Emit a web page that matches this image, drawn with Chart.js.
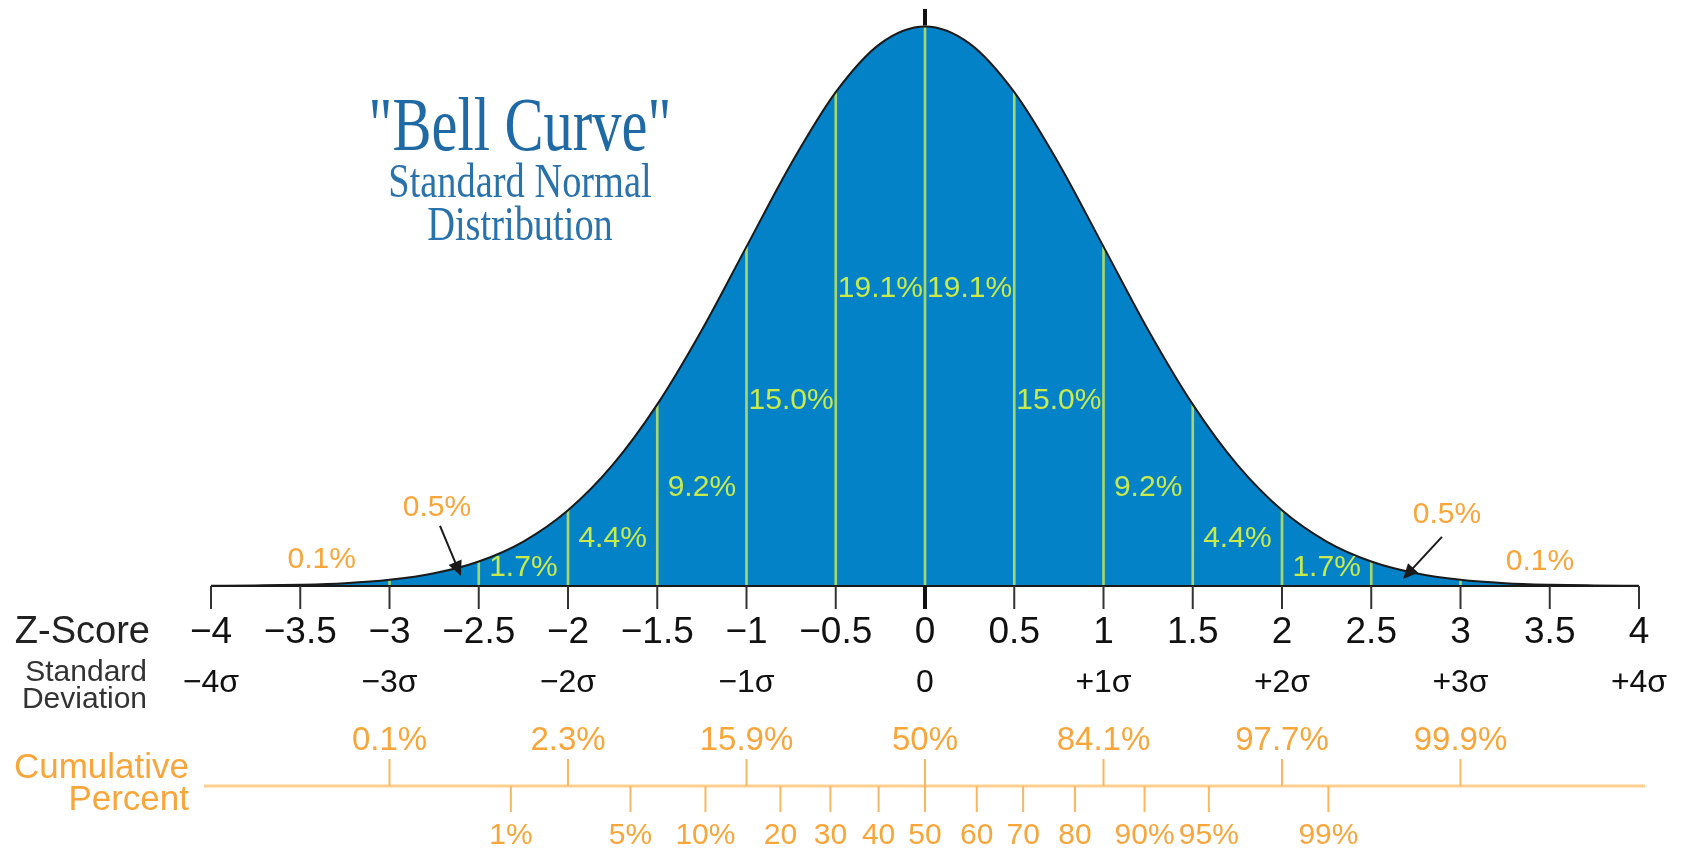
<!DOCTYPE html>
<html>
<head>
<meta charset="utf-8">
<script src="https://cdn.jsdelivr.net/npm/chart.js@4.4.1/dist/chart.umd.min.js"></script>
<style>
  html, body { margin: 0; padding: 0; background: #fff; }
  #wrap { width: 1683px; height: 851px; position: relative; }
</style>
</head>
<body>
<div id="wrap"><canvas id="bell"></canvas></div>
<script>
// ---- Data ----
const zValues = [-4, -3.75, -3.5, -3.25, -3, -2.75, -2.5, -2.25, -2, -1.75, -1.5, -1.25, -1, -0.75, -0.5, -0.25,
                 0, 0.25, 0.5, 0.75, 1, 1.25, 1.5, 1.75, 2, 2.25, 2.5, 2.75, 3, 3.25, 3.5, 3.75, 4];
const density = [0.0001, 0.0004, 0.0009, 0.0020, 0.0044, 0.0091, 0.0175, 0.0317, 0.0540, 0.0863, 0.1295, 0.1826, 0.2420, 0.3011, 0.3521, 0.3867,
                 0.3989, 0.3867, 0.3521, 0.3011, 0.2420, 0.1826, 0.1295, 0.0863, 0.0540, 0.0317, 0.0175, 0.0091, 0.0044, 0.0020, 0.0009, 0.0004, 0.0001];

// band dividers inside the curve
const boundaryZ = [-3.5, -3, -2.5, -2, -1.5, -1, -0.5, 0, 0.5, 1, 1.5, 2, 2.5, 3, 3.5];

// percentage of area in each band (left to right)
const bandLabels = ['0.1%', '0.5%', '1.7%', '4.4%', '9.2%', '15.0%', '19.1%',
                    '19.1%', '15.0%', '9.2%', '4.4%', '1.7%', '0.5%', '0.1%'];

const zTickValues = [-4, -3.5, -3, -2.5, -2, -1.5, -1, -0.5, 0, 0.5, 1, 1.5, 2, 2.5, 3, 3.5, 4];
const zTickLabels = ['−4', '−3.5', '−3', '−2.5', '−2', '−1.5', '−1', '−0.5', '0', '0.5', '1', '1.5', '2', '2.5', '3', '3.5', '4'];

const sigmaValues = [-4, -3, -2, -1, 0, 1, 2, 3, 4];
const sigmaLabels = ['−4σ', '−3σ', '−2σ', '−1σ', '0', '+1σ', '+2σ', '+3σ', '+4σ'];

const cumMajorZ = [-3, -2, -1, 0, 1, 2, 3];
const cumMajorLabels = ['0.1%', '2.3%', '15.9%', '50%', '84.1%', '97.7%', '99.9%'];

const cumMinorZ = [-2.32, -1.65, -1.23, -0.81, -0.53, -0.26, 0, 0.29, 0.55, 0.84, 1.23, 1.59, 2.26];
const cumMinorLabels = ['1%', '5%', '10%', '20', '30', '40', '50', '60', '70', '80', '90%', '95%', '99%'];

// ---- Styling ----
const blueFill   = '#0382c8';
const bandLine   = '#a6d66c';
const bandText   = '#c9ea4b';
const orange     = '#f8a53a';
const orangeAxis = '#fdd08f';
const ink        = '#1a1a1a';
const sans       = '"Liberation Sans", Arial, sans-serif';
const serif      = '"Liberation Serif", "Times New Roman", serif';

const heightAt = z => density[zValues.indexOf(z)];
const curvePts = zValues.map((z, i) => ({ x: z, y: density[i] }));
const barPts   = boundaryZ.map(z => ({ x: z, y: heightAt(z) }));

// label anchors, in data units: [z, density]
const bandAnchors = [
  [-3.38, 0.0186], [-2.734, 0.0557], [-2.25, 0.0128], [-1.75, 0.0336], [-1.25, 0.070], [-0.75, 0.132], [-0.25, 0.212],
  [0.25, 0.212], [0.75, 0.132], [1.25, 0.070], [1.75, 0.0336], [2.25, 0.0128], [2.924, 0.0507], [3.445, 0.0171]
];
const arrows = [
  { from: [-2.717, 0.0428], to: [-2.60, 0.0071] },
  { from: [2.896, 0.0350], to: [2.678, 0.0050] }
];

function text(ctx, s, x, y, size, color, align, family, sx) {
  ctx.save();
  ctx.translate(x, y);
  if (sx) ctx.scale(sx, 1);
  ctx.font = size + 'px ' + (family || sans);
  ctx.fillStyle = color;
  ctx.textAlign = align || 'center';
  ctx.textBaseline = 'middle';
  ctx.fillText(s, 0, 0);
  ctx.restore();
}

function arrow(ctx, x1, y1, x2, y2) {
  const a = Math.atan2(y2 - y1, x2 - x1);
  const len = 15, half = 7;
  ctx.save();
  ctx.strokeStyle = ink;
  ctx.fillStyle = ink;
  ctx.lineWidth = 2;
  ctx.beginPath();
  ctx.moveTo(x1, y1);
  ctx.lineTo(x2 - Math.cos(a) * len * 0.8, y2 - Math.sin(a) * len * 0.8);
  ctx.stroke();
  ctx.beginPath();
  ctx.moveTo(x2, y2);
  ctx.lineTo(x2 - Math.cos(a) * len - Math.sin(a) * half, y2 - Math.sin(a) * len + Math.cos(a) * half);
  ctx.lineTo(x2 - Math.cos(a) * len + Math.sin(a) * half, y2 - Math.sin(a) * len - Math.cos(a) * half);
  ctx.closePath();
  ctx.fill();
  ctx.restore();
}

const decorations = {
  id: 'decorations',
  beforeDraw(chart) {
    const ctx = chart.ctx;
    ctx.save();
    ctx.fillStyle = '#fff';
    ctx.fillRect(0, 0, chart.width, chart.height);
    ctx.restore();
  },
  afterDraw(chart) {
    const ctx = chart.ctx;
    const xs = chart.scales.x, ys = chart.scales.y;
    const X = v => xs.getPixelForValue(v);
    const Y = v => ys.getPixelForValue(v);
    const base = Y(0);

    // baseline
    ctx.save();
    ctx.strokeStyle = ink;
    ctx.lineWidth = 2;
    ctx.beginPath();
    ctx.moveTo(X(-4), base);
    ctx.lineTo(X(4), base);
    ctx.stroke();

    // z-score ticks
    ctx.strokeStyle = '#333';
    ctx.lineWidth = 2;
    zTickValues.forEach(z => {
      ctx.beginPath();
      ctx.moveTo(X(z), base);
      ctx.lineTo(X(z), base + 23);
      ctx.stroke();
    });
    // heavy centre line, above peak and below base
    ctx.strokeStyle = '#111';
    ctx.lineWidth = 4;
    ctx.beginPath();
    ctx.moveTo(X(0), base);
    ctx.lineTo(X(0), base + 23);
    ctx.moveTo(X(0), 9);
    ctx.lineTo(X(0), Y(heightAt(0)) - 1);
    ctx.stroke();
    ctx.restore();

    // z-score labels
    text(ctx, 'Z-Score', 150, 633, 38, '#222', 'right');
    zTickValues.forEach((z, i) => text(ctx, zTickLabels[i], X(z), 633, 37, '#111'));

    // standard deviation row
    text(ctx, 'Standard', 147, 673, 30, '#333', 'right');
    text(ctx, 'Deviation', 147, 700, 30, '#333', 'right');
    sigmaValues.forEach((z, i) => text(ctx, sigmaLabels[i], X(z), 683, 32, '#111'));

    // cumulative percent axis
    const axisY = 786;
    ctx.save();
    ctx.strokeStyle = orangeAxis;
    ctx.lineWidth = 3;
    ctx.beginPath();
    ctx.moveTo(X(-4.04), axisY);
    ctx.lineTo(X(4.034), axisY);
    ctx.stroke();
    ctx.strokeStyle = '#f9b760';
    ctx.lineWidth = 2;
    cumMajorZ.forEach(z => {
      ctx.beginPath();
      ctx.moveTo(X(z), axisY - 27);
      ctx.lineTo(X(z), axisY);
      ctx.stroke();
    });
    cumMinorZ.forEach(z => {
      ctx.beginPath();
      ctx.moveTo(X(z), axisY);
      ctx.lineTo(X(z), axisY + 26);
      ctx.stroke();
    });
    ctx.restore();
    cumMajorZ.forEach((z, i) => text(ctx, cumMajorLabels[i], X(z), 741, 33, orange));
    cumMinorZ.forEach((z, i) => text(ctx, cumMinorLabels[i], X(z), 836, 30, orange));
    text(ctx, 'Cumulative', 189, 768, 35, orange, 'right');
    text(ctx, 'Percent', 189, 800, 35, orange, 'right');

    // band percentages
    bandLabels.forEach((s, i) => {
      const [z, d] = bandAnchors[i];
      const outside = i < 2 || i > bandLabels.length - 3;
      text(ctx, s, X(z), Y(d), 30, outside ? orange : bandText);
    });
    arrows.forEach(a => arrow(ctx, X(a.from[0]), Y(a.from[1]), X(a.to[0]), Y(a.to[1])));

    // title
    ctx.save();
    ctx.fillStyle = '#1f6aa5';
    ctx.textAlign = 'center';
    ctx.textBaseline = 'alphabetic';
    ctx.translate(520, 150);
    ctx.scale(0.77, 1);
    ctx.font = '76px ' + serif;
    ctx.fillText('"Bell Curve"', 0, 0);
    ctx.restore();
    ctx.save();
    ctx.fillStyle = '#2a72ab';
    ctx.textAlign = 'center';
    ctx.textBaseline = 'alphabetic';
    ctx.font = '48px ' + serif;
    ctx.translate(520, 197);
    ctx.scale(0.8, 1);
    ctx.fillText('Standard Normal', 0, 0);
    ctx.restore();
    ctx.save();
    ctx.fillStyle = '#2a72ab';
    ctx.textAlign = 'center';
    ctx.textBaseline = 'alphabetic';
    ctx.font = '48px ' + serif;
    ctx.translate(520, 240);
    ctx.scale(0.8, 1);
    ctx.fillText('Distribution', 0, 0);
    ctx.restore();
  }
};

new Chart(document.getElementById('bell'), {
  type: 'line',
  data: {
    datasets: [
      {
        // outline on top
        type: 'line',
        data: curvePts,
        borderColor: ink,
        borderWidth: 2,
        fill: false,
        pointRadius: 0,
        cubicInterpolationMode: 'monotone',
        order: 0
      },
      {
        // band dividers
        type: 'bar',
        data: barPts,
        backgroundColor: bandLine,
        barThickness: 2,
        order: 1
      },
      {
        // blue area
        type: 'line',
        data: curvePts,
        borderWidth: 0,
        borderColor: 'rgba(0,0,0,0)',
        backgroundColor: blueFill,
        fill: 'origin',
        pointRadius: 0,
        cubicInterpolationMode: 'monotone',
        order: 2
      }
    ]
  },
  options: {
    responsive: true,
    maintainAspectRatio: false,
    animation: false,
    events: [],
    layout: { padding: { left: 211, right: 44, top: 11, bottom: 265 } },
    plugins: { legend: { display: false }, tooltip: { enabled: false } },
    scales: {
      x: { type: 'linear', min: -4, max: 4, offset: false, display: false, grid: { offset: false } },
      y: { min: 0, max: 0.41, display: false }
    }
  },
  plugins: [decorations]
});
</script>
</body>
</html>
